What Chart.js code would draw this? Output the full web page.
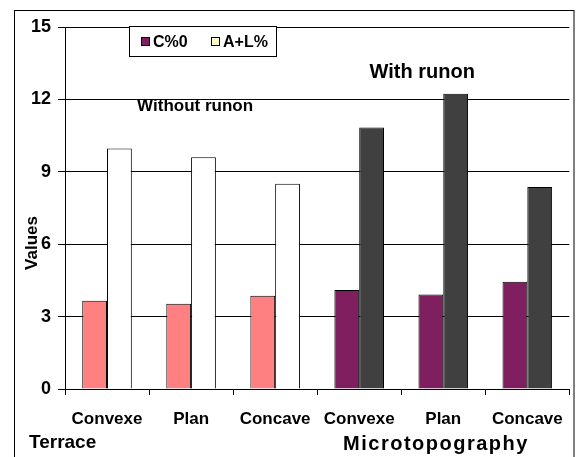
<!DOCTYPE html>
<html>
<head>
    <script src="https://cdn.jsdelivr.net/npm/chart.js"></script>
    <style>
        body { margin: 0; background: #fff; }
        #wrapper { width: 577px; height: 457px; }
    </style>
</head>
<body>
    <div id="wrapper">
        <canvas id="chart"></canvas>
    </div>
</body>
</html>

<script>
    // values
    var categories = ['Convexe', 'Plan', 'Concave', 'Convexe', 'Plan', 'Concave'];
    var seriesNames = ['C%0', 'A+L%'];
    var cValues = [3.66, 3.53, 3.86, 4.1, 3.92, 4.44];
    var alValues = [9.97, 9.6, 8.5, 10.84, 12.23, 8.37];
    var groupLabels = ['Terrace', 'Microtopography'];
    var notes = ['Without runon', 'With runon'];
    var yTicks = [0, 3, 6, 9, 12, 15];

    var FONT = "'Liberation Sans', Arial, sans-serif";
    var cColors = ['#FF8080', '#FF8080', '#FF8080', '#7F1F5F', '#7F1F5F', '#7F1F5F'];
    var alColors = ['#FFFFFF', '#FFFFFF', '#FFFFFF', '#404040', '#404040', '#404040'];
    var legendColors = ['#7F1F5F', '#FFFFCC'];

    var extras = {
        id: 'extras',
        afterDraw: function (chart) {
            var ctx = chart.ctx;
            var x = chart.scales.x, y = chart.scales.y;
            ctx.save();
            // outer frame
            ctx.strokeStyle = '#000';
            ctx.lineWidth = 1;
            ctx.strokeRect(14.5, 10.5, 559.5, 470);

            ctx.fillStyle = '#000';
            ctx.textBaseline = 'alphabetic';
            ctx.textAlign = 'center';
            ctx.font = 'bold 17px ' + FONT;
            ctx.fillText(notes[0], x.getPixelForValue(1) + 4, y.getPixelForValue(11.5));
            ctx.font = 'bold 20px ' + FONT;
            ctx.fillText(notes[1], x.getPixelForValue(3.75), y.getPixelForValue(12.9));

            // axis titles
            ctx.textAlign = 'left';
            ctx.font = 'bold 19px ' + FONT;
            ctx.fillText(groupLabels[0], 29, 448);
            ctx.textAlign = 'center';
            ctx.font = 'bold 20px ' + FONT;
            ctx.letterSpacing = '1.5px';
            ctx.fillText(groupLabels[1], 436, 450);
            ctx.letterSpacing = '0px';

            ctx.save();
            ctx.translate(37, 243);
            ctx.rotate(-Math.PI / 2);
            ctx.font = 'bold 17px ' + FONT;
            ctx.fillText('Values', 0, 0);
            ctx.restore();

            // legend box
            ctx.fillStyle = '#fff';
            ctx.fillRect(129.5, 26.5, 147, 30);
            ctx.strokeRect(129.5, 26.5, 147, 30);
            ctx.font = 'bold 16px ' + FONT;
            ctx.textAlign = 'left';
            var lx = [141, 211];
            for (var i = 0; i < seriesNames.length; i++) {
                ctx.fillStyle = legendColors[i];
                ctx.fillRect(lx[i] + 0.5, 37.5, 8, 8);
                ctx.strokeRect(lx[i] + 0.5, 37.5, 8, 8);
                ctx.fillStyle = '#000';
                ctx.fillText(seriesNames[i], lx[i] + 12, 47);
            }
            ctx.restore();
        }
    };

    var chart = new Chart('chart', {
        type: 'bar',
        data: {
            labels: categories,
            datasets: [
                {
                    label: seriesNames[0],
                    data: cValues,
                    backgroundColor: cColors,
                    borderColor: '#000',
                    borderWidth: 1,
                },
                {
                    label: seriesNames[1],
                    data: alValues,
                    backgroundColor: alColors,
                    borderColor: '#000',
                    borderWidth: 1,
                }
            ]
        },
        options: {
            responsive: true,
            maintainAspectRatio: false,
            animation: false,
            devicePixelRatio: 1,
            layout: {
                padding: { left: 0, top: 27, right: 3, bottom: 0 }
            },
            datasets: {
                bar: { categoryPercentage: 0.59, barPercentage: 1 }
            },
            plugins: {
                legend: { display: false },
                tooltip: { enabled: false },
            },
            scales: {
                x: {
                    grid: {
                        drawOnChartArea: false,
                        color: '#000',
                        tickLength: 6,
                    },
                    border: { color: '#000' },
                    ticks: {
                        color: '#000',
                        padding: 14,
                        maxRotation: 0,
                        autoSkip: false,
                        font: { family: FONT, size: 17, weight: 'bold' },
                    },
                    afterFit: function (scale) { scale.height = 68; }
                },
                y: {
                    min: 0,
                    max: 15,
                    afterBuildTicks: function (scale) {
                        scale.ticks = yTicks.map(function (v) { return { value: v }; });
                    },
                    grid: {
                        color: '#000',
                        tickLength: 7,
                    },
                    border: { color: '#000' },
                    ticks: {
                        color: '#000',
                        padding: 7,
                        font: { family: FONT, size: 18, weight: 'bold' },
                    },
                    afterFit: function (scale) { scale.width = 65; }
                }
            }
        },
        plugins: [extras]
    });
</script>
